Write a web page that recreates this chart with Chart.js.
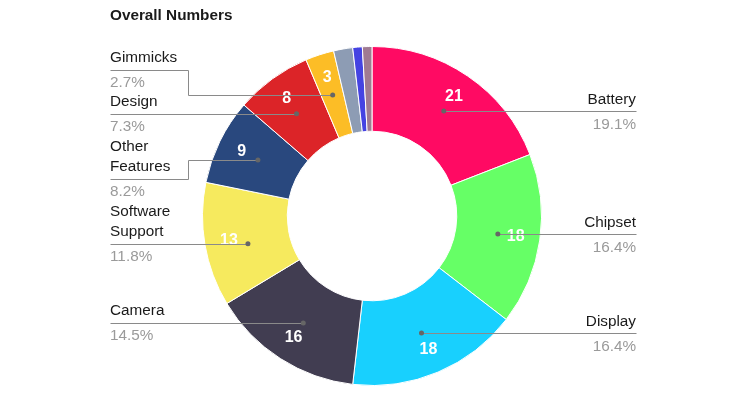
<!DOCTYPE html>
<html>
<head>
<meta charset="utf-8">
<script src="https://cdn.jsdelivr.net/npm/chart.js@4"></script>
<style>
  html, body { margin: 0; padding: 0; background: #ffffff; }
  #wrap { width: 750px; height: 394px; position: relative; }
</style>
</head>
<body>
<div id="wrap"><canvas id="c" width="750" height="394"></canvas></div>
<script>
const chartTitle = 'Overall Numbers';
const categories = ['Battery', 'Chipset', 'Display', 'Camera', 'Software Support', 'Other Features', 'Design', 'Gimmicks', '', '', ''];
const values = [21, 18, 18, 16, 13, 9, 8, 3, 2, 1, 1];
const colors = ['#ff0a63', '#66ff66', '#18d0fe', '#413d51', '#f6ea5e', '#29487e', '#dc2428', '#fcbd26', '#8d9cb4', '#4543e2', '#a07a92'];

const FONT = '"Liberation Sans", Arial, sans-serif';

const labelPlugin = {
  id: 'outerLabels',
  afterDraw(chart) {
    const ctx = chart.ctx;
    const meta = chart.getDatasetMeta(0);
    const total = values.reduce((a, b) => a + b, 0);
    const leftX = 110, rightX = 636, elbowW = 78;
    const wrapW = 80;

    ctx.save();
    // title
    ctx.fillStyle = '#1a1a1a';
    ctx.font = 'bold 15.3px ' + FONT;
    ctx.textAlign = 'left';
    ctx.textBaseline = 'alphabetic';
    ctx.fillText(chartTitle, leftX, 19.5);

    const labels = { left: [], right: [] };
    let cx = 0, cy = 0, midR = 0;
    meta.data.forEach((arc, i) => {
      const p = arc.getProps(['x', 'y', 'startAngle', 'endAngle', 'innerRadius', 'outerRadius'], true);
      cx = p.x; cy = p.y;
      const mid = (p.startAngle + p.endAngle) / 2;
      midR = (p.innerRadius + p.outerRadius) / 2;
      // value label inside slice
      if (values[i] >= 3) {
        const vr = midR + 18;
        ctx.fillStyle = '#ffffff';
        ctx.font = 'bold 16px ' + FONT;
        ctx.textAlign = 'center';
        ctx.textBaseline = 'middle';
        ctx.fillText(String(values[i]), p.x + vr * Math.cos(mid), p.y + vr * Math.sin(mid));
      }
      if (!categories[i]) return;
      // wrap name
      ctx.font = '15.3px ' + FONT;
      const words = categories[i].split(' ');
      const lines = [];
      let cur = '';
      words.forEach(w => {
        const t = cur ? cur + ' ' + w : w;
        if (cur && ctx.measureText(t).width > wrapW) { lines.push(cur); cur = w; } else { cur = t; }
      });
      if (cur) lines.push(cur);
      const dx = p.x + midR * Math.cos(mid), dy = p.y + midR * Math.sin(mid);
      const side = Math.cos(mid) >= 0 ? 'right' : 'left';
      labels[side].push({
        i, lines, dotX: dx, dotY: dy, desired: dy,
        above: 22 + 21 * (lines.length - 1), below: 22,
        pct: (values[i] / total * 100).toFixed(1) + '%'
      });
    });

    function layout(list) {
      list.sort((a, b) => a.desired - b.desired);
      let clusters = list.map(l => [l]);
      const place = cl => {
        const rel = [0];
        for (let k = 1; k < cl.length; k++) rel.push(rel[k - 1] + cl[k - 1].below + cl[k].above);
        const meanRel = rel.reduce((a, b) => a + b, 0) / rel.length;
        const meanDes = cl.reduce((a, l) => a + l.desired, 0) / cl.length;
        cl.forEach((l, k) => { l.y = meanDes - meanRel + rel[k]; });
      };
      let changed = true;
      while (changed) {
        changed = false;
        clusters.forEach(place);
        for (let k = 0; k < clusters.length - 1; k++) {
          const a = clusters[k][clusters[k].length - 1], b = clusters[k + 1][0];
          if (a.y + a.below + b.above > b.y) {
            clusters[k] = clusters[k].concat(clusters[k + 1]);
            clusters.splice(k + 1, 1);
            changed = true;
            break;
          }
        }
      }
    }
    layout(labels.left);
    layout(labels.right);

    ['left', 'right'].forEach(side => {
      labels[side].forEach(l => {
        const tx = side === 'left' ? leftX : rightX;
        const sgn = side === 'left' ? -1 : 1;
        let pts;
        let dotX, dotY;
        if (Math.abs(l.y - l.desired) <= 12) {
          const h = l.y - cy;
          dotX = cx + sgn * Math.sqrt(Math.max(midR * midR - h * h, 0));
          dotY = l.y;
          pts = [[tx, l.y], [dotX, dotY]];
        } else {
          dotX = l.dotX; dotY = l.dotY;
          const ex = side === 'left' ? tx + elbowW : tx - elbowW;
          pts = [[tx, l.y], [ex, l.y], [ex, dotY], [dotX, dotY]];
        }
        ctx.strokeStyle = '#8a8a8a';
        ctx.lineWidth = 1;
        ctx.beginPath();
        pts.forEach((pt, k) => {
          const x = Math.round(pt[0]) + 0.5, y = Math.round(pt[1]) + 0.5;
          if (k === 0) ctx.moveTo(x, y); else ctx.lineTo(x, y);
        });
        ctx.stroke();
        ctx.fillStyle = '#666';
        ctx.beginPath();
        ctx.arc(dotX, dotY, 2.5, 0, Math.PI * 2);
        ctx.fill();

        ctx.textAlign = side === 'left' ? 'left' : 'right';
        ctx.textBaseline = 'alphabetic';
        ctx.font = '15.3px ' + FONT;
        ctx.fillStyle = '#1a1a1a';
        const n = l.lines.length;
        l.lines.forEach((t, k) => {
          ctx.fillText(t, tx, l.y - 7.5 - (n - 1 - k) * 20);
        });
        ctx.fillStyle = '#9a9a9a';
        ctx.fillText(l.pct, tx, l.y + 17.5);
      });
    });
    ctx.restore();
  }
};

new Chart(document.getElementById('c'), {
  type: 'doughnut',
  data: {
    labels: categories,
    datasets: [{
      data: values,
      backgroundColor: colors,
      borderColor: '#ffffff',
      borderWidth: 1
    }]
  },
  options: {
    responsive: false,
    animation: false,
    cutout: '50%',
    layout: { padding: { left: 202, right: 208, top: 46, bottom: 8 } },
    plugins: {
      legend: { display: false },
      tooltip: { enabled: false },
      title: { display: false }
    }
  },
  plugins: [labelPlugin]
});
</script>
</body>
</html>
